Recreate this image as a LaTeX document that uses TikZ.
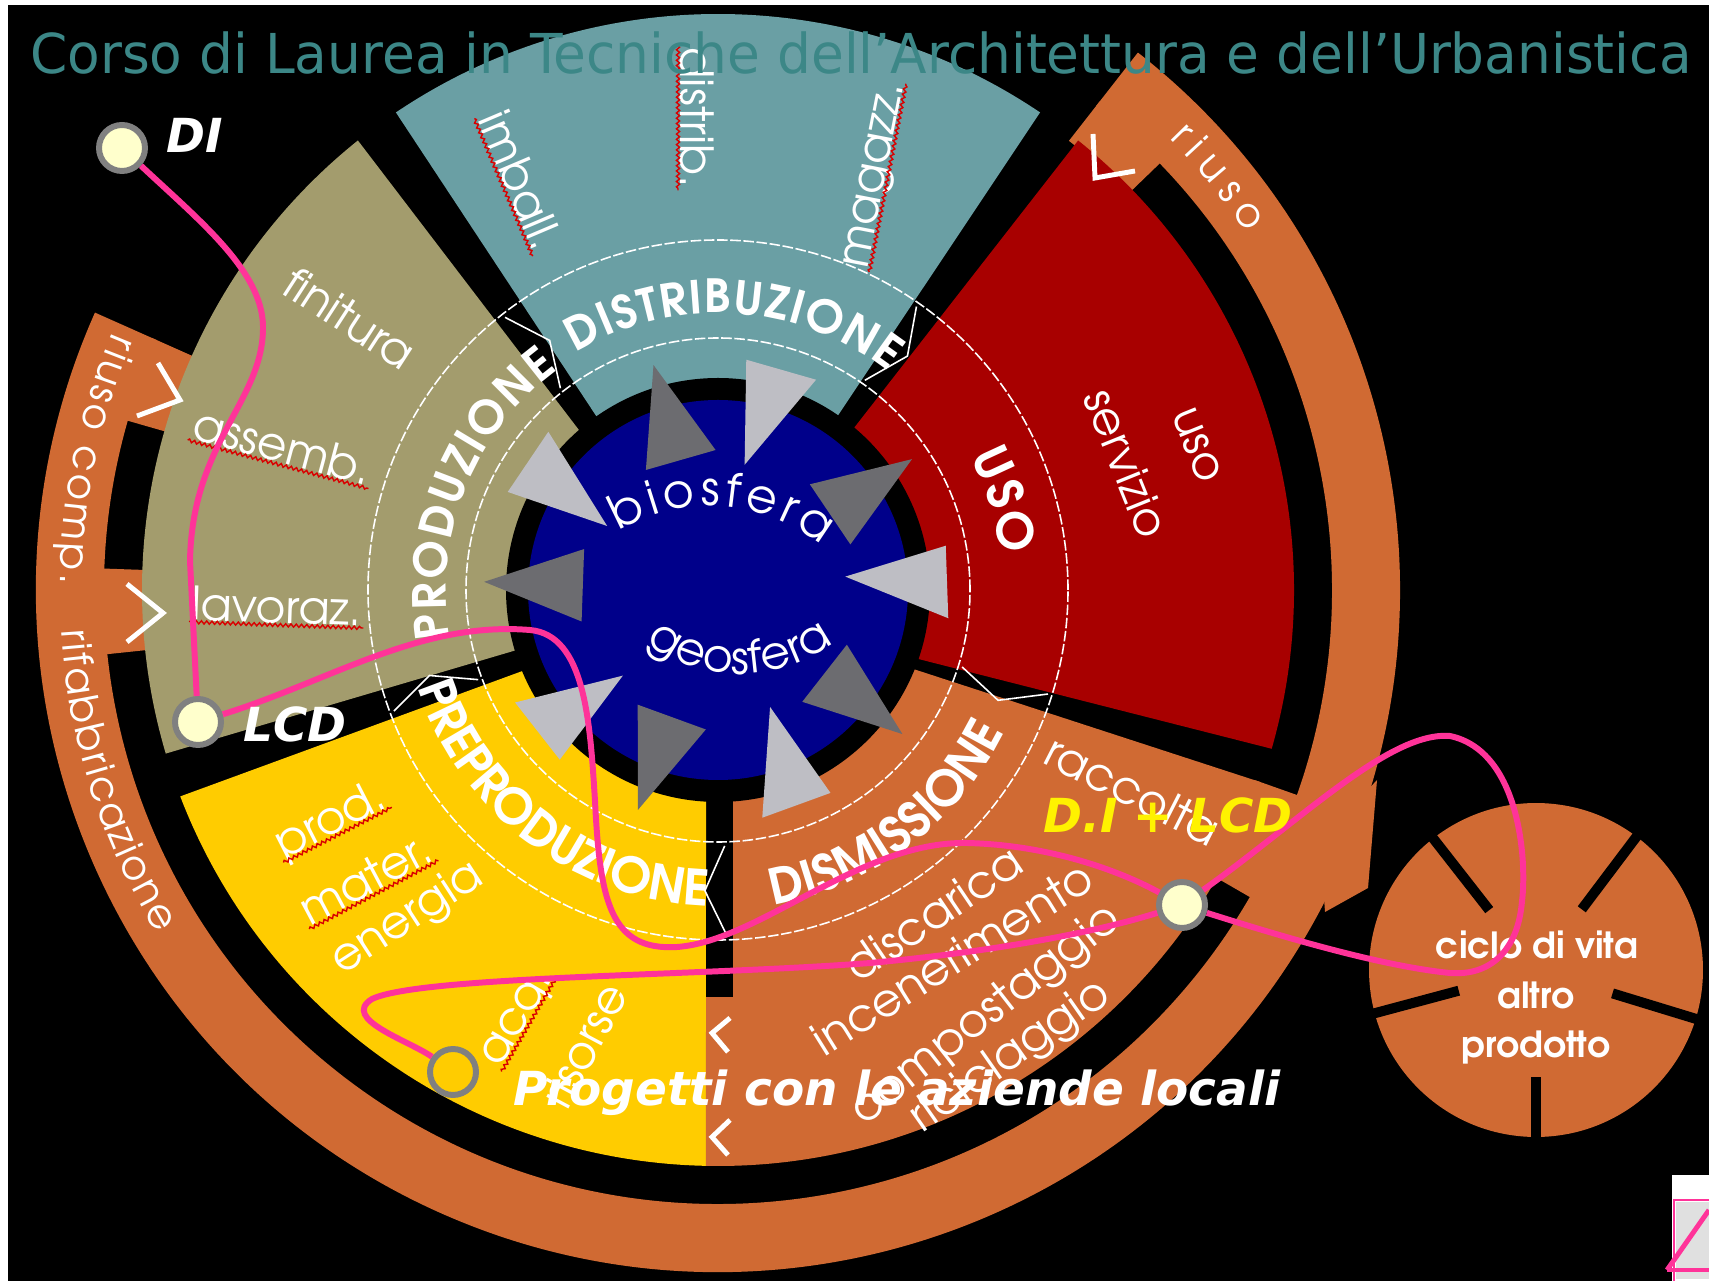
\documentclass[tikz,border=0pt]{standalone}
\usepackage{fontspec}
\setmainfont{DejaVu Sans}
\newfontfamily\advfont{TeX Gyre Adventor}
\usetikzlibrary{calc,decorations.text,decorations.pathmorphing}

\definecolor{distcol}{HTML}{6A9FA4}
\definecolor{prodcol}{HTML}{A39C6D}
\definecolor{precol}{HTML}{FFCC00}
\definecolor{dismcol}{HTML}{D06A33}
\definecolor{usocol}{HTML}{A80000}
\definecolor{biocol}{HTML}{00008A}
\definecolor{tripale}{HTML}{BEBEC4}
\definecolor{tridark}{HTML}{6C6C70}
\definecolor{titlecol}{HTML}{3C8787}
\definecolor{linkcol}{HTML}{FF3399}
\definecolor{hubfill}{HTML}{FFFFCC}
\definecolor{hubrim}{HTML}{808080}

\newcommand\lblfont{\advfont\fontsize{26}{28}\selectfont}
\newcommand\capsfont{\advfont\bfseries\fontsize{26}{28}\selectfont}
\newcommand\bigcapsfont{\advfont\bfseries\fontsize{28}{30}\selectfont}
\newcommand\ringfont{\advfont\fontsize{23}{25}\selectfont}
\newcommand\tagfont{\bfseries\itshape\fontsize{26.7}{28}\selectfont}

\tikzset{
  lbl/.style={text=white, font=\lblfont, inner sep=1pt, text depth=0pt},
  wavy/.style={draw=red!85!black, line width=0.8pt, decorate,
    decoration={snake, amplitude=0.9pt, segment length=3pt}},
  spell/.style={append after command={\pgfextra{\let\spellnode\tikzlastnode}
    (\spellnode.south west) edge[wavy] (\spellnode.south east)}},
  hub/.style={circle, draw=hubrim, line width=3.4pt, fill=hubfill,
    minimum size=0.92cm, inner sep=0pt},
  link/.style={draw=linkcol, line width=3.4pt},
  tag/.style={font=\tagfont, inner sep=0pt, anchor=base west},
  chev/.style={draw=white, line width=2.8pt},
  arctext/.style={decorate, decoration={text along path,
    text align={fit to path}, text color=white, text={#1}}}
}

\begin{document}
\begin{tikzpicture}[x=0.02cm, y=0.02cm]
\useasboundingbox (0,0) rectangle (1709,1281);
\fill[white] (0,0) rectangle (1709,1281);
\fill[black] (8,0) rectangle (1709,1276);

\begin{scope}[shift={(718,691)}]
  % outer ring with its tabs
  \fill[dismcol] (156:682) arc[start angle=156, end angle=412, radius=682]
    -- (412:614) arc[start angle=412, end angle=156, radius=614] -- cycle;
  \foreach \a in {156,178,404}
    \fill[dismcol] (\a:570) arc[start angle=\a, end angle=\a+8, radius=570]
      -- (\a+8:620) arc[start angle=\a+8, end angle=\a, radius=620] -- cycle;
  \fill[dismcol] (-30:570) arc[start angle=-30, end angle=-19.5, radius=570]
    -- (-19.5:620) arc[start angle=-19.5, end angle=-30, radius=620] -- cycle;

  % sectors
  \fill[distcol] (55.5:212) -- (56:576) arc[start angle=56, end angle=124, radius=576]
    -- (125:212) -- cycle;
  \fill[prodcol] (131:212) -- (128.7:576) arc[start angle=128.7, end angle=196.5, radius=576]
    -- (196.6:212) -- cycle;
  \fill[precol] (202.5:212) -- (201:576) arc[start angle=201, end angle=268.8, radius=576]
    -- (-12,-210) -- cycle;
  \fill[dismcol] (15,-210) -- (15,-407) -- (-12,-407) -- (268.8:576)
    arc[start angle=268.8, end angle=340.5, radius=576] -- (338:212) -- cycle;
  \fill[usocol] (-19:212) -- (-16:576) arc[start angle=-16, end angle=51.3, radius=576]
    -- (50:212) -- cycle;

  % centre
  \fill[black] (0,0) circle[radius=212];
  \fill[biocol] (0,0) circle[radius=190];
  \foreach \a in {106,34,-38,-110,178}
    \fill[tridark] (\a:234) -- (\a-15:140) -- (\a+15:140) -- cycle;
  \foreach \a in {74,2,-70,-142,146}
    \fill[tripale] (\a-9:232) -- (\a+9:232) -- (\a+4:128) -- cycle;

  \draw[white, line width=0.9pt, dash pattern=on 6pt off 1.5pt] (0,0) circle[radius=252];
  \draw[white, line width=0.9pt, dash pattern=on 6pt off 1.5pt] (0,0) circle[radius=350];
  \foreach \g in {199,126.5,53.5,-19,270}
    \draw[white, line width=0.9pt] (\g+1.5:256) -- (\g-2.5:301) -- (\g+1.5:346);

  % phase names
  \path[arctext={|\capsfont|DISTRIBUZIONE}] (121:277) arc[start angle=121, end angle=52, radius=277];
  \path[arctext={|\capsfont|PRODUZIONE}] (190:272) arc[start angle=190, end angle=126, radius=272];
  \path[arctext={|\bigcapsfont|USO}] (28:285) arc[start angle=28, end angle=7, radius=285];
  \path[arctext={|\bigcapsfont|DISMISSIONE}] (-80:320) arc[start angle=-80, end angle=-27, radius=320];
  \path[arctext={|\bigcapsfont|PREPRODUZIONE}] (198:316) arc[start angle=198, end angle=268, radius=316];

  % ring words
  \path[arctext={|\ringfont|riuso comp.}] (157:658) arc[start angle=157, end angle=179.5, radius=658];
  \path[arctext={|\ringfont|rifabbricazione}] (183.5:658) arc[start angle=183.5, end angle=211.5, radius=658];
  \path[arctext={|\ringfont|riuso}] (45:638) arc[start angle=45, end angle=34, radius=638];
\end{scope}

\path[arctext={|\advfont\fontsize{27}{29}\selectfont|biosfera}] ($(710,598)+(121:177)$) arc[start angle=121, end angle=51, radius=177];
\path[arctext={|\advfont\fontsize{26}{28}\selectfont|geosfera}] ($(740,763)+(-127:156)$) arc[start angle=-127, end angle=-53, radius=156];

% arrows on the ring
\draw[chev] (158,918) -- (180,881) -- (137,865);
\draw[chev] (127,697) -- (163,668) -- (127,639);
\draw[chev] (1093,1147) -- (1095,1103) -- (1135,1110);
\draw[chev] (730,263) -- (712,248) -- (728,229);
\draw[chev] (730,161) -- (712,144) -- (728,126);

% sector words
\node[lbl, spell, rotate=-67] (imball) at (521,1101) {imball.};
\node[lbl, spell, rotate=-90] (distrib) at (697,1163) {distrib.};
\node[lbl, spell, rotate=79] (magazz) at (873,1106) {magazz.};
\node[lbl, rotate=-33] (finitura) at (350,963) {finitura};
\node[lbl, spell, rotate=-15] (assemb) at (283,835) {assemb.};
\node[lbl, spell, rotate=-2] (lavoraz) at (277,675) {lavoraz.};
\node[lbl, spell, rotate=27] (prodm) at (329,463) {prod.};
\node[lbl, spell, rotate=28] (mater) at (365,403) {mater.};
\node[lbl, rotate=33] (energia) at (405,366) {energia};
\node[lbl, spell, rotate=60] (acq) at (516,264) {acq.};
\node[lbl, rotate=62] (risorse) at (584,236) {risorse};
\node[lbl, rotate=-68] (uso) at (1197,836) {uso};
\node[lbl, rotate=-68] (servizio) at (1127,818) {servizio};
\node[lbl, rotate=-27] (raccolta) at (1133,491) {raccolta};
\node[lbl, rotate=34] (discarica) at (933,368) {discarica};
\node[lbl, rotate=32] (incener) at (952,323) {incenerimento};
\node[lbl, rotate=38] (compost) at (983,269) {compostaggio};
\node[lbl, rotate=35] (ricicl) at (1008,228) {riciclaggio};

% other product
\fill[dismcol] (1377,501) -- (1368,393) -- (1325,369) -- (1320,440) -- cycle;
\node[circle, fill=dismcol, minimum size=6.68cm, inner sep=0pt] (ciclo) at (1536,311) {};
\foreach \a/\r in {128/76,53/76,-17/80,195/80,-90/107}
  \draw[black, line width=5.7pt] ($(ciclo.center)+(\a:\r)$) -- ($(ciclo.center)+(\a:172)$);
\node[text=white, font=\advfont\bfseries\fontsize{20.5}{22}\selectfont] (cicloA) at (1537,336) {ciclo di vita};
\node[text=white, font=\advfont\bfseries\fontsize{20.5}{22}\selectfont] (cicloB) at (1536,286) {altro};
\node[text=white, font=\advfont\bfseries\fontsize{20.5}{22}\selectfont] (cicloC) at (1536,233) {prodotto};

% title
\node[anchor=base west, inner sep=0pt, text=titlecol, font=\fontsize{31.3}{34}\selectfont]
  (title) at (30,1207) {\scalebox{0.97}[1]{Corso di Laurea in Tecniche dell’Architettura e dell’Urbanistica}};

% paths of the course
\node[hub] (DI) at (122,1133) {};
\node[hub] (LCD) at (198,559) {};
\node[hub] (DL) at (1182,376) {};
\node[hub, fill=none] (PR) at (453,209) {};

\draw[link] (DI) .. controls (200,1060) and (262,1010) .. (263,955)
  .. controls (264,880) and (192,840) .. (190,720) -- (LCD);
\draw[link] (LCD) .. controls (330,600) and (420,660) .. (530,651)
  .. controls (585,646) and (590,560) .. (595,480)
  .. controls (600,380) and (610,330) .. (677,334)
  .. controls (760,340) and (860,440) .. (967,438)
  .. controls (1050,436) and (1120,410) .. (DL);
\draw[link] (DL) .. controls (1300,460) and (1390,550) .. (1450,545)
  .. controls (1520,530) and (1527,420) .. (1522,380)
  .. controls (1518,330) and (1490,305) .. (1450,308)
  .. controls (1380,315) and (1280,345) .. (DL);
\draw[link] (PR) .. controls (410,240) and (340,262) .. (372,282)
  .. controls (420,305) and (700,305) .. (870,318)
  .. controls (1000,330) and (1100,350) .. (DL);

\node[tag, text=white] (diTag) at (166,1128) {DI};
\node[tag, text=white] (lcdTag) at (243,539) {LCD};
\node[tag, text=yellow] (dlTag) at (1043,448) {D.I + LCD};
\node[tag, text=white] (prTag) at (513,176) {Progetti con le aziende locali};

% thumbnail
\fill[white] (1672,0) rectangle (1709,106);
\fill[black!12] (1676,2) rectangle (1709,79);
\draw[linkcol, line width=1.5pt] (1674,0) -- (1674,81) -- (1709,81);
\draw[linkcol, line width=2.8pt] (1667,11) -- (1709,71);
\draw[linkcol, line width=2.8pt] (1667,11) -- (1709,11);
\end{tikzpicture}
\end{document}
